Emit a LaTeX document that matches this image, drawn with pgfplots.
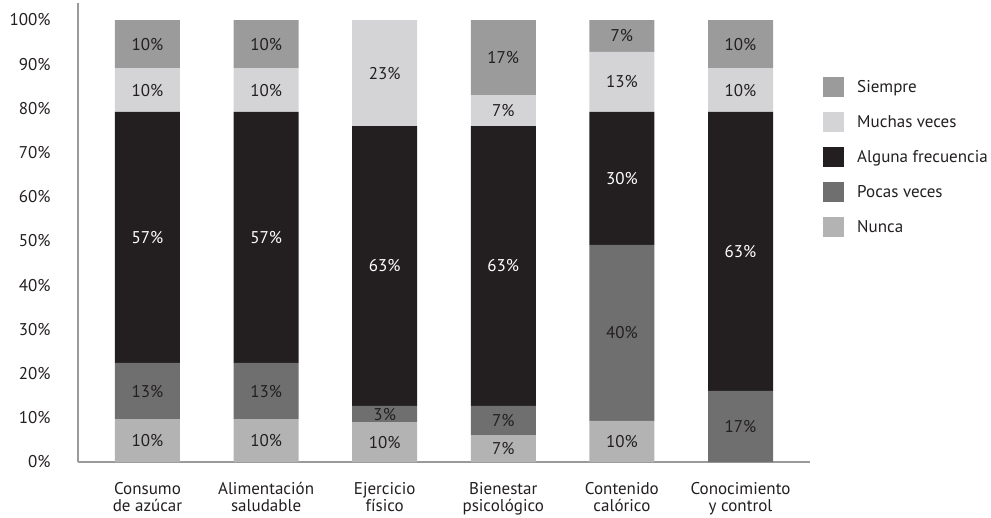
\documentclass[border=0pt]{standalone}
\usepackage{pgfplots}
\pgfplotsset{compat=1.18}
\usepackage{fontspec}
\setmainfont{PT Sans}
\definecolor{cSiempre}{HTML}{9B9B9B}
\definecolor{cMuchas}{HTML}{D4D4D6}
\definecolor{cAlguna}{HTML}{231F20}
\definecolor{cPocas}{HTML}{6F6F6F}
\definecolor{cNunca}{HTML}{B3B3B3}
\definecolor{axgray}{HTML}{9A9A9A}
\definecolor{txt}{HTML}{231F20}
\begin{document}
\begin{tikzpicture}[x=1pt,y=1pt]
\begin{axis}[
  at={(0pt,0pt)}, anchor=south west,
  scale only axis, width=732pt, height=459pt,
  ybar stacked, bar width=65pt,
  xmin=-0.586, xmax=5.586, ymin=0, ymax=103.85,
  axis x line*=bottom, axis y line*=left,
  axis line style={-, draw=axgray, line width=1.6pt},
  tick style={draw=none},
  xtick={0,1,2,3,4,5},
  xticklabels={{Consumo\\de azúcar},{Alimentación\\saludable},{Ejercicio\\físico},{Bienestar\\psicológico},{Contenido\\calórico},{Conocimiento\\y control}},
  xticklabel style={align=center, text=txt, font={\fontsize{17pt}{16.5pt}\selectfont}, anchor=north, yshift=-17pt},
  ytick={0,10,20,30,40,50,60,70,80,90,100},
  yticklabels={0\%,10\%,20\%,30\%,40\%,50\%,60\%,70\%,80\%,90\%,100\%},
  yticklabel style={text=txt, font={\fontsize{17pt}{20pt}\selectfont}, anchor=east, xshift=-24pt},
  nodes near coords={\pgfplotspointmeta},
  point meta=explicit symbolic,
  every node near coord/.append style={font={\fontsize{17pt}{20pt}\selectfont}},
  reverse legend,
  legend cell align=left,
  legend image code/.code={\path[#1, draw=none] (0pt,-10pt) rectangle (21pt,10pt);},
  legend style={draw=none, fill=none, at={(1.0178,0.8388)}, anchor=north west, inner sep=0pt,
    font={\fontsize{17pt}{20pt}\selectfont}, text=txt,
    nodes={inner sep=0pt}, /tikz/column sep=13pt, /tikz/row sep=14.9pt},
]
\addplot[fill=cNunca, draw=none, every node near coord/.append style={text=txt}] coordinates {
 (0,9.7)[10\%] (1,9.7)[10\%] (2,9.0)[10\%] (3,6.1)[7\%] (4,9.3)[10\%] (5,0)[]};
\addlegendentry{Nunca}
\addplot[fill=cPocas, draw=none, every node near coord/.append style={text=txt}] coordinates {
 (0,12.7)[13\%] (1,12.7)[13\%] (2,3.7)[3\%] (3,6.6)[7\%] (4,39.8)[40\%] (5,16.1)[17\%]};
\addlegendentry{Pocas veces}
\addplot[fill=cAlguna, draw=none, every node near coord/.append style={text=white}] coordinates {
 (0,56.8)[57\%] (1,56.8)[57\%] (2,63.3)[63\%] (3,63.3)[63\%] (4,30.1)[30\%] (5,63.1)[63\%]};
\addlegendentry{Alguna frecuencia}
\addplot[fill=cMuchas, draw=none, every node near coord/.append style={text=txt}] coordinates {
 (0,9.9)[10\%] (1,9.9)[10\%] (2,24.0)[23\%] (3,7.0)[7\%] (4,13.6)[13\%] (5,9.9)[10\%]};
\addlegendentry{Muchas veces}
\addplot[fill=cSiempre, draw=none, every node near coord/.append style={text=txt}] coordinates {
 (0,10.9)[10\%] (1,10.9)[10\%] (2,0)[] (3,17.0)[17\%] (4,7.2)[7\%] (5,10.9)[10\%]};
\addlegendentry{Siempre}
\end{axis}
\pgfresetboundingbox
\path[use as bounding box] (-78pt,-55pt) rectangle (913pt,462pt);
\end{tikzpicture}
\end{document}
